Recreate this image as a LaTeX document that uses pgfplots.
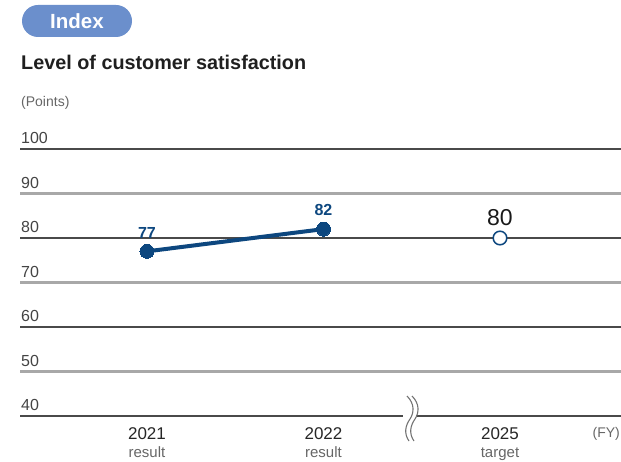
\documentclass[border=0pt]{standalone}
\usepackage{pgfplots}
\pgfplotsset{compat=1.18}
\usepackage{fontspec}
\setmainfont{Liberation Sans}
\definecolor{pill}{HTML}{6B8FCC}
\definecolor{navy}{HTML}{0D477F}
\definecolor{darkline}{HTML}{4A4A4A}
\definecolor{lightline}{HTML}{A8A8A8}
\definecolor{ticktext}{HTML}{444444}
\definecolor{subtext}{HTML}{666666}
\begin{document}
\begin{tikzpicture}
\useasboundingbox (0pt,0pt) rectangle (621pt,-462pt);
\begin{scope}[x=1pt,y=-1pt]
\fill[pill, rounded corners=16pt] (22,5) rectangle (132,37);
\node[text=white,font=\fontsize{20.5}{22}\selectfont\bfseries] at (77,21) {Index};
\node[anchor=base west,inner sep=0pt,font=\fontsize{19.8}{22}\selectfont\bfseries,text=black!88] at (21,70) {Level of customer satisfaction};
\node[anchor=base west,inner sep=0pt,font=\fontsize{14}{16}\selectfont,text=subtext] at (21,107) {(Points)};
\node[anchor=base east,inner sep=0pt,font=\fontsize{14}{16}\selectfont,text=subtext] at (620,437) {(FY)};
\end{scope}
\begin{axis}[
  at={(20pt,-416pt)}, anchor=south west,
  scale only axis, width=601pt, height=267pt,
  xmin=-0.7195, xmax=2.6856, ymin=40, ymax=100,
  clip=false,
  axis line style={draw=none},
  major tick length=0pt,
  ytick={40,50,...,100},
  yticklabel style={anchor=south west, inner sep=0pt, xshift=1pt, yshift=5pt,
    font=\fontsize{16}{18}\selectfont, text=ticktext},
  /pgf/number format/assume math mode=true,
  xtick={0,1,2},
  xticklabels={{2021\\{\fontsize{15}{17}\selectfont\color{subtext}result}},
               {2022\\{\fontsize{15}{17}\selectfont\color{subtext}result}},
               {2025\\{\fontsize{15}{17}\selectfont\color{subtext}target}}},
  xticklabel style={align=center, anchor=north, inner sep=0pt, yshift=-11pt,
    font=\fontsize{17}{18}\selectfont, text=black!85},
]
\draw[darkline, line width=1.4pt] (axis cs:-0.7195,100) -- (axis cs:2.6856,100);
\draw[lightline, line width=2.2pt] (axis cs:-0.7195,90) -- (axis cs:2.6856,90);
\draw[darkline, line width=1.4pt] (axis cs:-0.7195,80) -- (axis cs:2.6856,80);
\draw[lightline, line width=2.2pt] (axis cs:-0.7195,70) -- (axis cs:2.6856,70);
\draw[darkline, line width=1.4pt] (axis cs:-0.7195,60) -- (axis cs:2.6856,60);
\draw[lightline, line width=2.2pt] (axis cs:-0.7195,50) -- (axis cs:2.6856,50);
\draw[darkline, line width=1.4pt] (axis cs:-0.7195,40) -- (axis cs:2.6856,40);
\addplot[navy, line width=4pt, mark=*, mark size=7pt, mark options={line width=0pt, fill=navy},
  nodes near coords, point meta=explicit symbolic,
  every node near coord/.style={anchor=south, inner sep=0pt, yshift=13pt,
    font=\fontsize{16}{17}\selectfont\bfseries, text=navy}]
  table[meta=label] {
x y label
0 77 77
1 82 82
};
\addplot[navy, line width=1.5pt, mark=*, mark size=6.8pt, mark options={fill=white},
  nodes near coords, point meta=explicit symbolic,
  every node near coord/.style={anchor=south, inner sep=0pt, yshift=12pt,
    font=\fontsize{23}{24}\selectfont, text=black!90}]
  table[meta=label] {
x y label
2 80 80
};
\end{axis}
\begin{scope}[x=1pt,y=-1pt]
\fill[white] (403,412) rectangle (416,420);
\draw[black!55, line width=1.1pt] (407,396) .. controls (415,404) and (414,413) .. (410,419) .. controls (405,426) and (404,434) .. (409,441);
\draw[black!55, line width=1.1pt] (412,396) .. controls (420,404) and (419,413) .. (415,419) .. controls (410,426) and (409,434) .. (414,441);
\end{scope}
\end{tikzpicture}
\end{document}
